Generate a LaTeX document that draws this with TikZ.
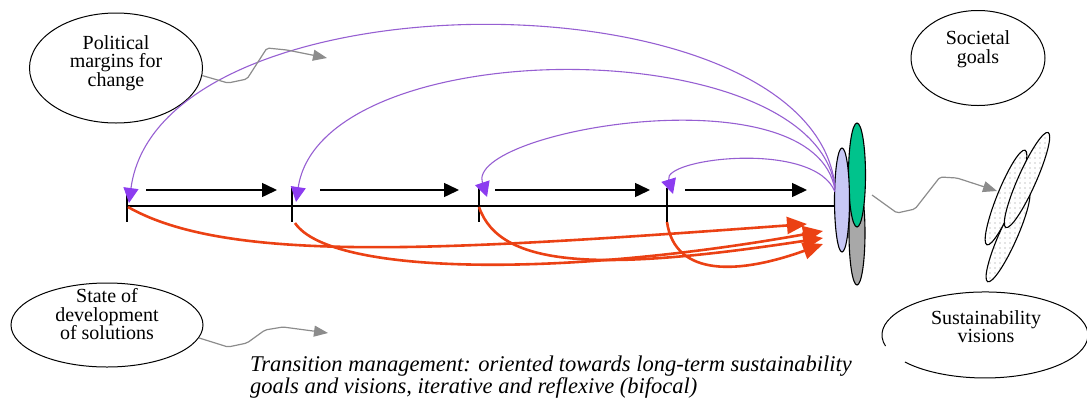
\documentclass[tikz,border=0pt]{standalone}
\usepackage{fontspec}
\setmainfont{Liberation Serif}
\usetikzlibrary{arrows.meta,shapes.geometric,patterns.meta}
\definecolor{purp}{RGB}{150,95,210}
\definecolor{purptip}{RGB}{140,60,240}
\definecolor{redor}{RGB}{235,65,20}
\definecolor{lavc}{RGB}{200,200,245}
\definecolor{grnc}{RGB}{0,195,140}
\definecolor{gryc}{RGB}{168,168,168}
\definecolor{squigc}{RGB}{140,140,140}
\begin{document}
\begin{tikzpicture}[x=1pt,y=-1pt,
  lbl/.style={font=\rmfamily\fontsize{20}{18.5}\selectfont, align=center, inner sep=0pt},
  oval/.style={draw, ellipse, line width=1pt, inner sep=0pt},
  timeline/.style={line width=1.5pt, black},
  tickmark/.style={line width=1.5pt, black},
  fwd/.style={line width=1.5pt, -{Triangle[length=15pt,width=14pt]}},
  back/.style={purp, line width=1.1pt, -{Triangle[length=15pt,width=15pt,color=purptip]}},
  impact/.style={redor, line width=2.6pt, -{Triangle[length=20pt,width=17pt]}},
  squig/.style={squigc, line width=1.2pt, rounded corners=2pt, -{Triangle[length=14pt,width=11pt]}},
  cluster/.style={draw, ellipse, line width=1.1pt, inner sep=0pt},
  vision/.style={draw, ellipse, line width=1.1pt, inner sep=0pt, preaction={fill=white},
     pattern={Dots[distance=5pt,radius=0.7pt]}, pattern color=gray!90},
]
\useasboundingbox (0,0) rectangle (1087,408);

% context ovals
\node[oval, minimum width=173pt, minimum height=110pt] (pol) at (116,68) {};
\node[lbl] (poltxt) at (116,63) {Political\\margins for\\change};
\node[oval, minimum width=134pt, minimum height=95pt] (soc) at (978,58) {};
\node[lbl] (soctxt) at (978,49) {Societal\\goals};
\node[oval, minimum width=192pt, minimum height=84pt] (sta) at (107,325) {};
\node[lbl] (statxt) at (107,314.5) {State of\\development\\of solutions};
\node[inner sep=0pt, minimum width=206pt, minimum height=86pt] (sus) at (985,335) {};
\draw[line width=1pt] (sus.center) ++(-99.5,11.1) arc[start angle=165, end angle=501, x radius=103, y radius=43];
\node[lbl] (sustxt) at (986,326.5) {Sustainability\\visions};

% caption
\node[anchor=north west, align=left, inner sep=0pt, font=\rmfamily\itshape\fontsize{22.5}{20}\selectfont] (cap) at (250,356)
  {Transition management: oriented towards long-term sustainability\\goals and visions, iterative and reflexive (bifocal)};

% cluster of goals
\node[cluster, fill=gryc, minimum width=16pt, minimum height=104pt] (gry) at (857,233) {};
\node[cluster, fill=grnc, minimum width=17pt, minimum height=104pt] (grn) at (857,175) {};
\node[cluster, fill=lavc, minimum width=15pt, minimum height=104pt] (lav) at (842,200) {};

% vision ellipses
\node[vision, minimum width=100pt, minimum height=18pt, rotate=66] (v3) at (1008,236) {};
\node[vision, minimum width=102pt, minimum height=18pt, rotate=68] (v2) at (1006,197.5) {};
\node[vision, minimum width=104pt, minimum height=18pt, rotate=66] (v1) at (1027,180) {};

% timeline
\coordinate (t1) at (127,206);
\coordinate (t2) at (292,206);
\coordinate (t3) at (479,206);
\coordinate (t4) at (667,206);
\coordinate (tend) at (835,206);
\draw[timeline] (t1) -- (tend);
\foreach \t in {t1,t2,t3,t4} \draw[tickmark] (\t) ++(0,-18) -- ++(0,34);

% forward arrows
\coordinate (a1) at (146,190); \coordinate (b1) at (277,190);
\coordinate (a2) at (320,190); \coordinate (b2) at (459,190);
\coordinate (a3) at (495,190); \coordinate (b3) at (650,190);
\coordinate (a4) at (685,190); \coordinate (b4) at (807,190);
\draw[fwd] (a1) -- (b1);
\draw[fwd] (a2) -- (b2);
\draw[fwd] (a3) -- (b3);
\draw[fwd] (a4) -- (b4);

% feedback arcs
\coordinate (p1) at (835,186); \coordinate (q1) at (129,203);
\coordinate (p2) at (835,188); \coordinate (q2) at (296,202);
\coordinate (p3) at (835,190); \coordinate (q3) at (487,197);
\coordinate (p4) at (835,192); \coordinate (q4) at (673,194);
\draw[back] (p1) .. controls (810,-30) and (160,-30) .. (q1);
\draw[back] (p2) .. controls (815,30) and (322,30) .. (q2);
\draw[back] (p3) .. controls (815,70) and (465,130) .. (q3);
\draw[back] (p4) .. controls (815,140) and (662,158) .. (q4);

% impact arrows
\coordinate (r1) at (128,207); \coordinate (s1) at (807,224);
\coordinate (r2) at (295,223); \coordinate (s2) at (823,231);
\coordinate (r3) at (479,207); \coordinate (s3) at (823,238);
\coordinate (r4) at (667,222); \coordinate (s4) at (823,244);
\draw[impact] (r1) .. controls (230,265) and (450,250) .. (s1);
\draw[impact] (r2) .. controls (330,275) and (560,278) .. (s2);
\draw[impact] (r3) .. controls (500,268) and (600,272) .. (s3);
\draw[impact] (r4) .. controls (675,278) and (740,274) .. (s4);

% squiggly influence arrows
\coordinate (e1) at (327,58);
\coordinate (e2) at (328,333);
\coordinate (e3) at (997,191);
\draw[squig] (pol.-5) -- (228,83) -- (247,79) -- (267,48) -- (287,50) -- (e1);
\draw[squig] (sta.-8) -- (228,347) -- (247,343) -- (265,330) -- (283,327) -- (e2);
\draw[squig] (872,195) -- (897,213) -- (915,209) -- (940,177) -- (957,178) -- (e3);
\end{tikzpicture}
\end{document}
